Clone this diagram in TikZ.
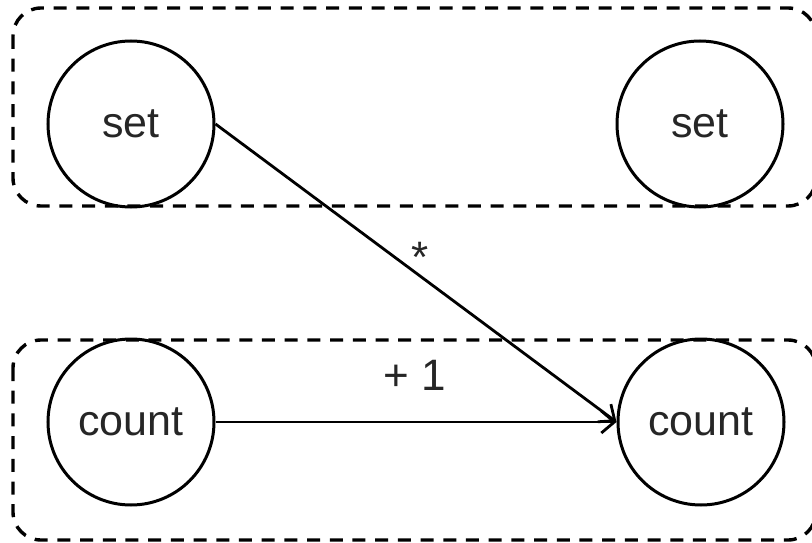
\documentclass[tikz,border=0pt]{standalone}
\usepackage{fontspec}
\setmainfont{Liberation Sans}
\usetikzlibrary{arrows.meta}
\begin{document}
\begin{tikzpicture}[x=1pt,y=-1pt,
  state/.style={circle,draw,line width=3pt,minimum size=166pt,inner sep=0pt,
    font=\fontsize{43}{48}\selectfont,text=black!85},
  group/.style={draw,line width=3.4pt,rounded corners=28pt,
    dash pattern=on 13pt off 9.7pt},
  edge/.style={line width=2.8pt,-{Straight Barb[length=13pt,width=22pt,line width=2.8pt]}},
  lbl/.style={font=\fontsize{44}{50}\selectfont,text=black!85}]
\useasboundingbox (0,0) rectangle (812,543);
% dashed group frames
\draw[group] (13,8) rectangle (816,206);
\draw[group] (13,340) rectangle (816,540);
% states
\node[state] (s1) at (131,124) {\raisebox{-3pt}{set}};
\node[state] (s2) at (700,124) {\raisebox{-3pt}{set}};
\node[state] (c1) at (131,422) {\raisebox{-3pt}{count}};
\node[state] (c2) at (701,422) {\raisebox{-3pt}{count}};
% transitions
\draw[edge] (s1.east) -- (c2.west);
\draw[edge] (c1.east) -- (c2.west);
\node[lbl] (star) at (420,257) {*};
\node[lbl] (plus) at (415,375) {+ 1};
\end{tikzpicture}
\end{document}
